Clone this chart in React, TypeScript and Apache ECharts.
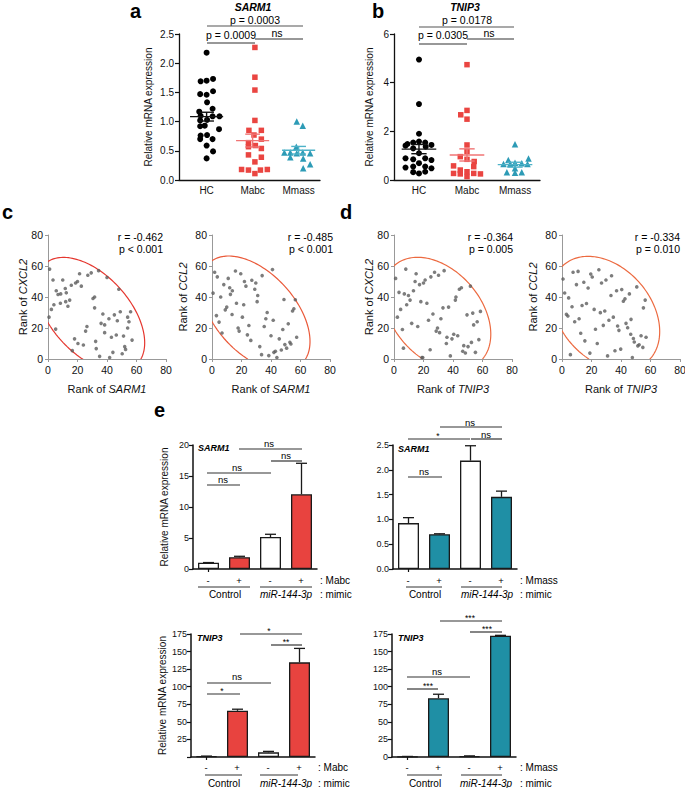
import React, { useEffect, useRef } from 'react';
import * as echarts from 'echarts';

const FONT = 'Arial, "Liberation Sans", Helvetica, sans-serif';

// ---------- panel a / b : jittered dot plots ----------
const groups = ['HC', 'Mabc', 'Mmass'];

// [horizontal jitter offset, relative mRNA expression]
const sarm1HC = [[0, 2.18], [-0.13, 1.69], [0, 1.7], [0.14, 1.73], [-0.14, 1.47], [0, 1.46], [0.14, 1.52], [0.01, 1.33], [-0.16, 1.17], [0.13, 1.22], [-0.13, 1.1], [0.13, 1.09], [0.28, 1.09], [-0.14, 1.02], [0.01, 1.03], [-0.04, 0.93], [-0.14, 0.92], [0.27, 0.87], [-0.13, 0.76], [0.01, 0.77], [-0.14, 0.7], [0.13, 0.7], [0, 0.59], [0.14, 0.49], [0, 0.37]];
const sarm1Mabc = [[0.05, 2.27], [0.05, 1.76], [0.05, 1.54], [0.05, 1.02], [-0.08, 0.85], [0.19, 0.85], [0.03, 0.77], [0.19, 0.7], [-0.09, 0.64], [0.06, 0.59], [-0.09, 0.57], [0.19, 0.54], [-0.09, 0.43], [0.19, 0.39], [0.05, 0.31], [-0.24, 0.18], [-0.09, 0.17], [0.17, 0.17], [0.32, 0.18], [0.05, 0.11]];
const sarm1Mmass = [[-0.04, 1.0], [0.09, 0.93], [-0.05, 0.57], [-0.31, 0.47], [-0.18, 0.47], [-0.04, 0.46], [0.09, 0.47], [0.25, 0.46], [-0.18, 0.39], [0.1, 0.37], [0.25, 0.27], [0.1, 0.2]];
// [mean, SEM] per group
const sarm1MeanSem = [[1.085, 0.075], [0.675, 0.11], [0.51, 0.065]];

const tnip3HC = [[0, 4.95], [0, 3.12], [0, 1.9], [-0.24, 1.48], [-0.12, 1.54], [0, 1.58], [0.13, 1.54], [0.26, 1.44], [-0.28, 1.41], [-0.12, 1.3], [0.14, 1.37], [0, 1.1], [-0.28, 0.89], [-0.12, 0.85], [0.13, 0.89], [0.26, 0.82], [0, 0.69], [-0.28, 0.51], [-0.12, 0.55], [0.13, 0.55], [0.26, 0.48], [-0.12, 0.32], [0, 0.27], [0.13, 0.34]];
const tnip3Mabc = [[0, 4.74], [0, 2.86], [-0.13, 2.68], [0, 2.5], [0, 1.44], [0, 1.17], [-0.14, 0.96], [0, 0.85], [0.15, 0.76], [-0.28, 0.58], [0.14, 0.55], [-0.14, 0.41], [0, 0.34], [-0.28, 0.27], [-0.14, 0.25], [0.14, 0.27], [0.28, 0.25], [0, 0.14]];
const tnip3Mmass = [[0, 1.47], [0.28, 0.88], [-0.14, 0.82], [0, 0.71], [-0.24, 0.66], [-0.1, 0.66], [0.14, 0.69], [0.26, 0.66], [0, 0.48], [-0.17, 0.32], [0, 0.3], [0.14, 0.32]];
const tnip3MeanSem = [[1.27, 0.19], [1.03, 0.25], [0.63, 0.1]];

// ---------- panel c / d : rank scatter ----------
const rankSarm1Cxcl2 = [[1.1, 58], [3.4, 51], [0.7, 27], [2.3, 32], [4, 35], [5.6, 44], [6.8, 41.6], [8.6, 42], [10, 51], [8.4, 36], [11.7, 45.5], [12.4, 42.7], [12, 37], [13.5, 34], [14.7, 38], [5.2, 19.3], [15.8, 47.6], [18.7, 49], [20, 50], [21.4, 55], [22.6, 47], [16.5, 5.4], [18, 13], [20.3, 10], [24, 9], [25.5, 18], [26.4, 21], [27, 54], [29.3, 55.6], [30.5, 39], [31.6, 40], [31.6, 33], [32.3, 11.4], [32.7, 6.7], [34.3, 57], [35, 1.7], [36, 23], [37.2, 29], [38.4, 22], [38.4, 17], [40, 52.6], [41.3, 26], [43, 14], [44, 4.3], [41.8, 1], [45, 28.5], [46.3, 15.5], [47, 24.7], [48, 45], [49, 30.5], [50.3, 3.4], [51.2, 14.8], [52, 8], [52.6, 6.2], [54, 27], [54, 20], [54.9, 24], [56, 30.5], [57, 12.2]];
const rankSarm1Ccl2 = [[0.7, 42.5], [1.8, 56], [3.6, 53], [4.8, 23.8], [3, 28], [5.9, 40], [6.8, 16.8], [8, 48], [9, 31.7], [10, 33.5], [11, 52], [12, 46], [12.5, 41.7], [13.8, 44], [13.6, 28.7], [15.9, 56.8], [16.6, 36], [17.7, 20], [18.4, 18], [19.5, 55], [20.6, 27], [21.5, 35], [22, 50], [23, 47], [24, 15.6], [25, 21.6], [26.3, 12], [27, 50.8], [29, 45], [29.7, 49], [30.6, 37], [31, 41], [32.4, 8], [33.6, 2.8], [34, 53.8], [35.4, 21], [36.5, 26], [37.4, 30], [38.5, 2.2], [40, 15], [41, 57.7], [41.5, 25], [42, 4.3], [43, 5], [44, 1], [45.6, 13], [47, 5.8], [48, 19], [48.8, 38.4], [49.4, 9.3], [50.6, 7], [51.7, 22.7], [52.8, 10.8], [53.5, 9.7], [54.6, 31], [55.5, 32.4], [56.5, 38.2], [57.4, 14]];
const rankTnip3Cxcl2 = [[1.1, 52], [2.3, 27], [3.4, 43], [4.5, 32], [5.7, 19], [6.4, 7], [7, 42], [8, 58], [8.6, 35], [9.8, 41], [10.9, 38], [12, 23], [13.2, 44], [14.3, 50], [15, 55], [16.1, 21], [17.3, 48], [18.2, 37], [18.9, 1], [19.5, 1], [20, 49], [21.1, 51], [22.3, 36], [23.4, 25], [24.5, 6], [25, 53], [26.4, 29], [27.5, 56], [28.6, 18], [29.5, 20], [30.2, 54], [30.9, 17], [31.8, 26], [33.2, 33], [34, 57], [35.5, 10], [35.9, 14], [37, 33.5], [38.2, 2], [39.3, 13], [40.5, 16], [41.6, 38], [42, 40], [43.2, 15], [44.3, 45], [45.7, 46], [46.6, 5], [47.3, 8.6], [48.4, 3.9], [49.5, 28.5], [50.2, 8], [51.8, 47], [52.5, 10.7], [53.4, 29.6], [54, 22], [55.2, 4.3], [56.4, 24], [57.5, 12.5], [58.6, 30.7]];
const rankTnip3Ccl2 = [[0.7, 51.6], [1.8, 42.6], [3, 28.8], [4, 27.7], [4.5, 39.4], [5.7, 2.8], [6.8, 33.7], [7.5, 56], [8.6, 24], [9.8, 48], [10.9, 56.5], [11.6, 26], [12.7, 16.6], [13.6, 34.5], [14.8, 49.5], [15.5, 11.7], [16.6, 35.8], [17.7, 45.8], [18.9, 3.8], [19.5, 54.8], [20.5, 52.9], [21.8, 32], [22.7, 19.2], [23.9, 10], [25, 57.6], [26, 29.9], [26.8, 49], [28, 21.7], [29, 31], [29.8, 51], [30.9, 2], [31.8, 25], [33.2, 41], [33.6, 53.7], [34.8, 27], [35.9, 5.3], [37, 44], [37.7, 21.3], [38.6, 18.5], [39.8, 6.4], [40.5, 44.8], [41.6, 37.3], [42.7, 38.8], [43.4, 23], [44.5, 20.2], [45.7, 42], [46.6, 16], [47.7, 1], [48.4, 13.2], [49, 11], [50.7, 46.5], [51.4, 8.5], [52.3, 9.2], [53.6, 15], [55.2, 33], [54.8, 7.5], [56.4, 38], [57, 14], [46.8, 25.6]];
// confidence ellipse: [centre x, centre y, semi-axis along (1,-1), semi-axis along (1,1)]
const ellipseSarm1Cxcl2 = [28.8, 28.8, 45.0, 26.0];
const ellipseSarm1Ccl2 = [29.4, 29.4, 45.2, 26.5];
const ellipseTnip3Cxcl2 = [29.2, 29.2, 42.5, 29.1];
const ellipseTnip3Ccl2 = [29.5, 29.5, 42.2, 30.3];

// ---------- panel e : bar charts ----------
const barCats = ['Control -', 'Control +', 'miR-144-3p -', 'miR-144-3p +'];
const sarm1MabcMean = [1.0, 1.9, 5.15, 12.05];
const sarm1MabcErr = [0.04, 0.15, 0.45, 5.0];
const sarm1MmassMean = [0.925, 0.7, 2.185, 1.455];
const sarm1MmassErr = [0.11, 0.01, 0.3, 0.115];
const tnip3MabcMean = [1.0, 65.7, 6.6, 134.7];
const tnip3MabcErr = [0.3, 2.3, 1.4, 19.8];
const tnip3MmassMean = [0.6, 83.6, 1.2, 172.5];
const tnip3MmassErr = [0.2, 5.7, 0.4, 0.6];

const RED = '#e8433f';
const TEAL = '#1f8fa5';
const MABC_PT = '#ea4541';
const MMASS_PT = '#2d9bb6';

const grids = [
  { left: 179, top: 34, width: 141, height: 146 },
  { left: 394, top: 34, width: 146, height: 146 },
  { left: 48, top: 235, width: 118, height: 124 },
  { left: 212, top: 235, width: 118, height: 124 },
  { left: 394, top: 235, width: 118, height: 124 },
  { left: 562, top: 235, width: 118, height: 124 },
  { left: 193, top: 445, width: 124, height: 124 },
  { left: 393, top: 445, width: 124, height: 124 },
  { left: 191, top: 634, width: 124, height: 123 },
  { left: 392, top: 634, width: 124, height: 123 },
];

function txt(x: number, y: number, text: string, o: any = {}) {
  const align = o.al || 'center';
  return {
    type: 'text', x, y, silent: true, rotation: o.rot || 0,
    style: {
      text, fontFamily: FONT, fontSize: o.fs || 10, fontWeight: o.fw || 'normal',
      fontStyle: o.it ? 'italic' : 'normal', fill: o.c || '#000',
      align, verticalAlign: 'middle', textAlign: align, textVerticalAlign: 'middle',
      rich: o.rich,
    },
  };
}
function hl(x1: number, x2: number, y: number, c = '#333', w = 1.2) {
  return { type: 'line', silent: true, shape: { x1, y1: y, x2, y2: y }, style: { stroke: c, lineWidth: w } };
}

export default function App() {
  const ref = useRef<HTMLDivElement>(null);
  useEffect(() => {
    if (!ref.current) return;
    const chart = echarts.init(ref.current, null, { renderer: 'svg' });

    const gridOpts = grids.map((g) => ({ ...g, containLabel: false, outerBoundsMode: 'none' }));

    const blackLine = { show: true, lineStyle: { color: '#111', width: 1.3 } };
    const grayLine = { show: true, lineStyle: { color: '#999', width: 1 } };
    const lbl = (fs: number, extra: any = {}) => ({ show: true, fontSize: fs, color: '#111', fontFamily: FONT, showMinLabel: true, showMaxLabel: true, hideOverlap: false, ...extra });
    const nameStyle = (fs: number) => ({ fontSize: fs, fontFamily: FONT, color: '#111' });
    const richName = {
      fontSize: 11, fontFamily: FONT, color: '#111',
      rich: { n: { fontSize: 11, fontFamily: FONT, color: '#111' }, i: { fontSize: 11, fontFamily: FONT, color: '#111', fontStyle: 'italic' } },
    };

    const xAxes: any[] = [];
    const yAxes: any[] = [];
    // a, b
    [[0.4, 3.465], [0.48, 3.52]].forEach(([mn, mx], i) => {
      xAxes.push({
        type: 'value', gridIndex: i, min: mn, max: mx, axisLine: blackLine, axisTick: { show: false },
        splitLine: { show: false },
        axisLabel: lbl(10, { margin: 5, customValues: [1, 2, 3], formatter: (v: number) => groups[Math.round(v) - 1] || '' }),
      });
    });
    yAxes.push({
      type: 'value', gridIndex: 0, min: 0, max: 2.5, interval: 0.5, axisLine: blackLine,
      axisTick: { show: true, length: 4, lineStyle: { color: '#111', width: 1.2 } }, splitLine: { show: false },
      axisLabel: lbl(10, { margin: 5, formatter: (v: number) => v.toFixed(1) }),
      name: 'Relative mRNA expression', nameLocation: 'middle', nameGap: 26, nameTextStyle: nameStyle(10), nameMoveOverlap: false,
    });
    yAxes.push({
      type: 'value', gridIndex: 1, min: 0, max: 6, interval: 2, axisLine: blackLine,
      axisTick: { show: true, length: 4, lineStyle: { color: '#111', width: 1.2 } }, splitLine: { show: false },
      axisLabel: lbl(10, { margin: 5 }),
      name: 'Relative mRNA expression', nameLocation: 'middle', nameGap: 20, nameTextStyle: nameStyle(10), nameMoveOverlap: false,
    });
    // c, d
    const rankNames = [['SARM1', 'CXCL2'], ['SARM1', 'CCL2'], ['TNIP3', 'CXCL2'], ['TNIP3', 'CCL2']];
    rankNames.forEach(([xn, yn], k) => {
      const gi = 2 + k;
      const common = {
        type: 'value', gridIndex: gi, min: 0, max: 80, interval: 20, axisLine: grayLine,
        axisTick: { show: true, length: 3, lineStyle: { color: '#999' } }, splitLine: { show: false },
        nameLocation: 'middle', nameTextStyle: richName, nameMoveOverlap: false,
      };
      xAxes.push({ ...common, axisLabel: lbl(10.5, { margin: 5 }), name: `{n|Rank of }{i|${xn}}`, nameGap: 24 });
      yAxes.push({ ...common, axisLabel: lbl(10.5, { margin: 5 }), name: `{n|Rank of }{i|${yn}}`, nameGap: k % 2 === 0 ? 20 : 24 });
    });
    // e
    const eY = [
      { max: 20, interval: 5, fmt: (v: number) => String(v), name: true },
      { max: 2.5, interval: 0.5, fmt: (v: number) => v.toFixed(1), name: false },
      { max: 175, interval: 25, fmt: (v: number) => (v === 0 ? '' : String(v)), name: true },
      { max: 175, interval: 25, fmt: (v: number) => String(v), name: false },
    ];
    eY.forEach((e, k) => {
      const gi = 6 + k;
      xAxes.push({
        type: 'category', gridIndex: gi, data: barCats, axisLine: { show: true, lineStyle: { color: '#111', width: 1.5 } },
        axisTick: { show: true, alignWithLabel: true, length: 3, lineStyle: { color: '#111', width: 1.2 } },
        axisLabel: { show: false }, splitLine: { show: false },
      });
      yAxes.push({
        type: 'value', gridIndex: gi, min: 0, max: e.max, interval: e.interval,
        axisLine: { show: true, lineStyle: { color: '#111', width: 1.5 } },
        axisTick: { show: true, length: 4, lineStyle: { color: '#111', width: 1.2 } }, splitLine: { show: false },
        axisLabel: lbl(9, { margin: 4, formatter: e.fmt }),
        name: e.name ? 'Relative mRNA expression' : '', nameLocation: 'middle', nameGap: 24,
        nameTextStyle: nameStyle(10), nameMoveOverlap: false,
      });
    });

    const series: any[] = [];
    const dot = (pts: number[][], gi: number, ax: number, symbol: string, size: number, color: string) => ({
      type: 'scatter', xAxisIndex: ax, yAxisIndex: ax, z: 3, silent: true,
      data: pts.map(([d, v]) => [gi + 1 + d, v]), symbol, symbolSize: size, itemStyle: { color, opacity: 1 },
    });
    const meanColors = ['#111', '#f07474', '#4db2c8'];
    const meanSeries = (ms: number[][], ax: number) => ({
      type: 'custom', xAxisIndex: ax, yAxisIndex: ax, z: 5, silent: true,
      data: ms.map(([m, s], i) => [i + 1, m, s, i]),
      renderItem: (_p: any, api: any) => {
        const x = api.value(0), m = api.value(1), s = api.value(2), i = api.value(3);
        const st = { stroke: meanColors[i], lineWidth: 1.4 };
        const c = (a: number, b: number) => api.coord([a, b]);
        const L = c(x - 0.36, m), R = c(x + 0.36, m), T = c(x, m + s), B = c(x, m - s);
        const TL = c(x - 0.16, m + s), TR = c(x + 0.16, m + s), BL = c(x - 0.16, m - s), BR = c(x + 0.16, m - s);
        const ln = (p: number[], q: number[]) => ({ type: 'line', shape: { x1: p[0], y1: p[1], x2: q[0], y2: q[1] }, style: st });
        return { type: 'group', children: [ln(L, R), ln(T, B), ln(TL, TR), ln(BL, BR)] };
      },
    });
    series.push(dot(sarm1HC, 0, 0, 'circle', 6, '#000'), dot(sarm1Mabc, 1, 0, 'rect', 5.5, MABC_PT), dot(sarm1Mmass, 2, 0, 'triangle', 6.5, MMASS_PT), meanSeries(sarm1MeanSem, 0));
    series.push(dot(tnip3HC, 0, 1, 'circle', 6, '#000'), dot(tnip3Mabc, 1, 1, 'rect', 5.5, MABC_PT), dot(tnip3Mmass, 2, 1, 'triangle', 6.5, MMASS_PT), meanSeries(tnip3MeanSem, 1));

    const ranks = [rankSarm1Cxcl2, rankSarm1Ccl2, rankTnip3Cxcl2, rankTnip3Ccl2];
    const ells = [ellipseSarm1Cxcl2, ellipseSarm1Ccl2, ellipseTnip3Cxcl2, ellipseTnip3Ccl2];
    const ellColors = ['#e5372f', '#ea5a3a', '#ec6a40', '#ec6a40'];
    ranks.forEach((r, k) => {
      const ax = 2 + k;
      series.push({ type: 'scatter', xAxisIndex: ax, yAxisIndex: ax, silent: true, z: 3, data: r, symbolSize: 3.6, itemStyle: { color: '#5d5d5d' } });
      series.push({
        type: 'custom', xAxisIndex: ax, yAxisIndex: ax, silent: true, clip: true, z: 2, data: [ells[k]],
        renderItem: (_p: any, api: any) => {
          const cx = api.value(0), cy = api.value(1), a = api.value(2), b = api.value(3);
          const pts: number[][] = [];
          for (let j = 0; j <= 160; j++) {
            const t = (j / 160) * Math.PI * 2;
            const u = a * Math.cos(t), v = b * Math.sin(t);
            pts.push(api.coord([cx + (u + v) / Math.SQRT2, cy + (v - u) / Math.SQRT2]));
          }
          return { type: 'polyline', shape: { points: pts }, style: { stroke: ellColors[k], fill: 'none', lineWidth: 1.2 } };
        },
      });
    });

    const bars = [
      [sarm1MabcMean, sarm1MabcErr, RED],
      [sarm1MmassMean, sarm1MmassErr, TEAL],
      [tnip3MabcMean, tnip3MabcErr, RED],
      [tnip3MmassMean, tnip3MmassErr, TEAL],
    ] as any[];
    bars.forEach(([means, errs, col], k) => {
      const ax = 6 + k;
      series.push({
        type: 'bar', xAxisIndex: ax, yAxisIndex: ax, barWidth: 21, silent: true, z: 2,
        data: means.map((v: number, i: number) => ({ value: v, itemStyle: { color: i % 2 === 1 ? col : '#ffffff', borderColor: '#1a1a1a', borderWidth: 1.3 } })),
      });
      series.push({
        type: 'custom', xAxisIndex: ax, yAxisIndex: ax, silent: true, z: 4,
        data: means.map((v: number, i: number) => [i, v, errs[i]]),
        renderItem: (_p: any, api: any) => {
          const x = api.value(0), m = api.value(1), e = api.value(2);
          const p0 = api.coord([x, m]), p1 = api.coord([x, m + e]);
          const st = { stroke: '#1a1a1a', lineWidth: 1.3 };
          return {
            type: 'group', children: [
              { type: 'line', shape: { x1: p0[0], y1: p0[1], x2: p1[0], y2: p1[1] }, style: st },
              { type: 'line', shape: { x1: p1[0] - 5.5, y1: p1[1], x2: p1[0] + 5.5, y2: p1[1] }, style: st },
            ],
          };
        },
      });
    });

    const g: any[] = [];
    // panel letters
    g.push(txt(130, 11, 'a', { fs: 20, fw: 'bold', al: 'left' }));
    g.push(txt(372, 11, 'b', { fs: 20, fw: 'bold', al: 'left' }));
    g.push(txt(2, 212, 'c', { fs: 20, fw: 'bold', al: 'left' }));
    g.push(txt(340, 212, 'd', { fs: 20, fw: 'bold', al: 'left' }));
    g.push(txt(154, 410, 'e', { fs: 20, fw: 'bold', al: 'left' }));
    // a
    g.push(txt(253, 7, 'SARM1', { fs: 10.5, fw: 'bold', it: true }));
    g.push(txt(255, 20, 'p = 0.0003', { fs: 10.5 }), hl(207, 303, 26, '#555'));
    g.push(txt(231, 35, 'p = 0.0009', { fs: 10.5 }), hl(207, 255, 43, '#333'));
    g.push(txt(277, 33, 'ns', { fs: 10.5 }), hl(255, 303, 39, '#333'));
    // b
    g.push(txt(465, 7, 'TNIP3', { fs: 10.5, fw: 'bold', it: true }));
    g.push(txt(467, 20, 'p = 0.0178', { fs: 10.5 }), hl(419, 514, 27, '#555'));
    g.push(txt(443, 35, 'p = 0.0305', { fs: 10.5 }), hl(419, 467, 44, '#333'));
    g.push(txt(489, 33, 'ns', { fs: 10.5 }), hl(467, 514, 39, '#333'));
    // c / d stats
    const stats = [[163, '-0.462', 'p < 0.001'], [333, '-0.485', 'p < 0.001'], [513, '-0.364', 'p = 0.005'], [680, '-0.334', 'p = 0.010']];
    stats.forEach(([x, r, p]: any) => {
      g.push(txt(x, 237, `r = ${r}`, { fs: 10.5, al: 'right' }));
      g.push(txt(x, 249, p, { fs: 10.5, al: 'right' }));
    });
    // e titles
    g.push(txt(198, 448, 'SARM1', { fs: 9, fw: 'bold', it: true, al: 'left' }));
    g.push(txt(398, 449, 'SARM1', { fs: 9, fw: 'bold', it: true, al: 'left' }));
    g.push(txt(197, 638, 'TNIP3', { fs: 9, fw: 'bold', it: true, al: 'left' }));
    g.push(txt(398, 638, 'TNIP3', { fs: 9, fw: 'bold', it: true, al: 'left' }));
    // e brackets: [x1, x2, lineY, label, labelX, labelY]
    const brackets: any[] = [
      [239, 302, 449, 'ns', 269, 443], [271, 302, 461, 'ns', 286, 455], [207, 271, 473, 'ns', 237, 467], [207, 240, 485, 'ns', 223, 479],
      [440, 502, 427, 'ns', 470, 422], [408, 470, 439, '*', 438, 436], [471, 502, 439, 'ns', 486, 434], [408, 442, 477, 'ns', 424, 471],
      [240, 302, 634, '*', 269, 631], [271, 302, 645, '**', 286, 642], [207, 271, 683, 'ns', 237, 676], [207, 240, 694, '*', 222, 691],
      [440, 502, 621, '***', 470, 618], [470, 502, 632, '***', 487, 629], [407, 470, 677, 'ns', 437, 671], [407, 438, 689, '***', 428, 686],
    ];
    brackets.forEach(([x1, x2, y, t, tx, ty]) => {
      g.push(hl(x1, x2, y, '#333', 1.2));
      g.push(txt(tx, ty, t, { fs: t === 'ns' ? 9.5 : 8.5 }));
    });
    // e treatment rows
    const rows: any[] = [
      { ys: [580, 587, 594], cx: [208, 239, 270, 301], agent: ': Mabc', lx: 320, u1: [198, 250], u2: [260, 312], ctl: 225, mir: 286 },
      { ys: [580, 587, 594], cx: [408, 439, 470, 501], agent: ': Mmass', lx: 520, u1: [406, 442], u2: [461, 502], ctl: 425, mir: 487 },
      { ys: [767, 775, 783], cx: [206, 237, 268, 299], agent: ': Mabc', lx: 318, u1: [205, 242], u2: [260, 298], ctl: 224, mir: 286 },
      { ys: [767, 775, 783], cx: [407, 438, 469, 500], agent: ': Mmass', lx: 520, u1: [407, 442], u2: [461, 502], ctl: 425, mir: 486 },
    ];
    rows.forEach((r) => {
      r.cx.forEach((x: number, i: number) => g.push(txt(x, r.ys[0], i % 2 === 0 ? '-' : '+', { fs: 9.5 })));
      g.push(txt(r.lx, r.ys[0], r.agent, { fs: 10, al: 'left' }));
      g.push(hl(r.u1[0], r.u1[1], r.ys[1], '#333', 1), hl(r.u2[0], r.u2[1], r.ys[1], '#333', 1));
      g.push(txt(r.ctl, r.ys[2], 'Control', { fs: 10 }));
      g.push(txt(r.mir, r.ys[2], 'miR-144-3p', { fs: 10, it: true }));
      g.push(txt(r.lx, r.ys[2], ': mimic', { fs: 10, al: 'left' }));
    });

    chart.setOption({
      animation: false,
      backgroundColor: '#ffffff',
      textStyle: { fontFamily: FONT },
      grid: gridOpts,
      xAxis: xAxes,
      yAxis: yAxes,
      series,
      graphic: { elements: g },
    });
    return () => chart.dispose();
  }, []);
  return <div ref={ref} style={{ position: 'absolute', left: 0, top: 0, width: 685, height: 788, background: '#fff' }} />;
}
